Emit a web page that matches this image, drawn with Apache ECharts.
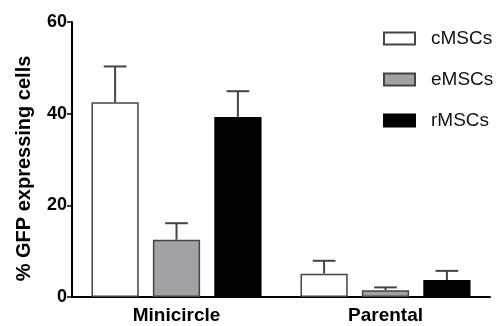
<!DOCTYPE html>
<html><head><meta charset="utf-8">
<script src="https://cdn.jsdelivr.net/npm/echarts@6/dist/echarts.min.js"></script>
<style>html,body{margin:0;padding:0;background:#fff}#c{width:496px;height:326px}</style>
</head><body><div id="c"></div>
<script>
const categories = ['Minicircle', 'Parental'];
const seriesNames = ['cMSCs', 'eMSCs', 'rMSCs'];
const cMSCs = [42.5, 5.1];
const cMSCsErr = [7.8, 2.8];
const eMSCs = [12.5, 1.5];
const eMSCsErr = [3.6, 0.6];
const rMSCs = [39.3, 3.7];
const rMSCsErr = [5.6, 2.0];
const yTicks = [0, 20, 40, 60];

const values = [cMSCs, eMSCs, rMSCs];
const errs = [cMSCsErr, eMSCsErr, rMSCsErr];
const fills = ['#ffffff', '#a2a2a6', '#000000'];
const borders = ['#444444', '#444444', '#000000'];
const BW = 0.226, GAP = 0.3;
const FONT = 'Liberation Sans, Arial, sans-serif';

const chart = echarts.init(document.getElementById('c'), null, {renderer: 'canvas'});

const series = [];
seriesNames.forEach((name, i) => {
  series.push({
    name: name, type: 'bar', data: values[i],
    barWidth: (BW * 100) + '%', barGap: (GAP * 100) + '%',
    itemStyle: {color: fills[i], borderColor: borders[i], borderWidth: 1.5},
    z: 2
  });
});
seriesNames.forEach((name, i) => {
  series.push({
    type: 'custom', name: name + ' err',
    data: values[i].map((v, k) => [k, v, v + errs[i][k]]),
    renderItem: function (params, api) {
      const cat = api.value(0);
      const band = api.size([1, 0])[0];
      const w = band * BW;
      const off = (i - 1) * w * (1 + GAP);
      const p0 = api.coord([cat, api.value(1)]);
      const p1 = api.coord([cat, api.value(2)]);
      const x = p0[0] + off;
      const cap = w * 0.24;
      const st = {stroke: '#444444', lineWidth: 2};
      return {type: 'group', children: [
        {type: 'line', shape: {x1: x, y1: p0[1], x2: x, y2: p1[1]}, style: st},
        {type: 'line', shape: {x1: x - cap, y1: p1[1], x2: x + cap, y2: p1[1]}, style: st}
      ]};
    },
    z: 1, silent: true
  });
});

chart.setOption({
  animation: false,
  backgroundColor: '#ffffff',
  grid: {left: 72, right: 6, top: 22, bottom: 29},
  legend: {
    data: seriesNames, orient: 'vertical', left: 383, top: 29, padding: 0,
    itemWidth: 31, itemHeight: 12, itemGap: 22, icon: 'rect',
    textStyle: {fontFamily: FONT, fontSize: 19, color: '#111', padding: [0, 0, 0, 11]}
  },
  xAxis: {
    type: 'category', data: categories,
    axisLine: {lineStyle: {color: '#000', width: 2}},
    axisTick: {alignWithLabel: true, length: 6, lineStyle: {color: '#000', width: 2}},
    axisLabel: {fontFamily: FONT, fontSize: 19, fontWeight: 'bold', color: '#000', margin: 9}
  },
  yAxis: {
    type: 'value', min: 0, max: 60, interval: 20,
    name: '% GFP expressing cells', nameLocation: 'middle', nameGap: 38,
    nameTextStyle: {fontFamily: FONT, fontSize: 20, fontWeight: 'bold', color: '#000', padding: [0, 18, 0, 0]},
    axisLine: {show: true, lineStyle: {color: '#000', width: 2}},
    axisTick: {show: true, length: 5, lineStyle: {color: '#000', width: 1.5}},
    axisLabel: {fontFamily: FONT, fontSize: 18, fontWeight: 'bold', color: '#000', margin: 5,
      formatter: v => yTicks.includes(v) ? String(v) : ''},
    splitLine: {show: false}
  },
  series: series
});
</script></body></html>
